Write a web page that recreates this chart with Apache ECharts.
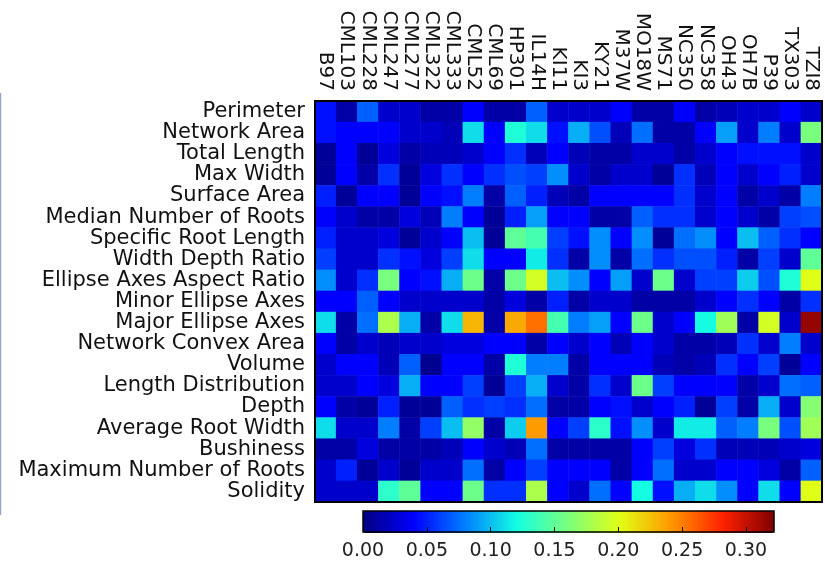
<!DOCTYPE html>
<html>
<head>
<meta charset="utf-8">
<script src="https://cdn.jsdelivr.net/npm/echarts@6/dist/echarts.min.js"></script>
<style>
  html, body {margin: 0; padding: 0; background: #fff;}
  #main {width: 825px; height: 561px;}
</style>
</head>
<body>
<div id="main"></div>
<script>
var lines = ['B97', 'CML103', 'CML228', 'CML247', 'CML277', 'CML322', 'CML333', 'CML52',
    'CML69', 'HP301', 'IL14H', 'KI11', 'KI3', 'KY21', 'M37W', 'MO18W', 'MS71', 'NC350',
    'NC358', 'OH43', 'OH7B', 'P39', 'TX303', 'TZI8'];

var traits = ['Perimeter', 'Network Area', 'Total Length', 'Max Width', 'Surface Area',
    'Median Number of Roots', 'Specific Root Length', 'Width Depth Ratio',
    'Ellipse Axes Aspect Ratio', 'Minor Ellipse Axes', 'Major Ellipse Axes',
    'Network Convex Area', 'Volume', 'Length Distribution', 'Depth',
    'Average Root Width', 'Bushiness', 'Maximum Number of Roots', 'Solidity'];

// one row per trait, one value per line (same order as above)
var values = [
    [0.045, 0.012, 0.07, 0.024, 0.024, 0.012, 0.012, 0.04, 0.012, 0.012, 0.07, 0.024, 0.024, 0.024, 0.04, 0.012, 0.012, 0.04, 0.012, 0.018, 0.024, 0.024, 0.04, 0.024],
    [0.045, 0.04, 0.04, 0.04, 0.024, 0.024, 0.018, 0.11, 0.04, 0.125, 0.11, 0.045, 0.095, 0.065, 0.018, 0.075, 0.012, 0.012, 0.04, 0.09, 0.024, 0.08, 0.024, 0.16],
    [0.008, 0.04, 0.008, 0.03, 0.012, 0.018, 0.018, 0.024, 0.04, 0.055, 0.018, 0.04, 0.018, 0.012, 0.012, 0.024, 0.024, 0.012, 0.024, 0.04, 0.045, 0.045, 0.045, 0.024],
    [0.008, 0.04, 0.012, 0.055, 0.008, 0.03, 0.055, 0.04, 0.055, 0.065, 0.06, 0.085, 0.024, 0.012, 0.024, 0.024, 0.008, 0.055, 0.018, 0.04, 0.024, 0.04, 0.05, 0.024],
    [0.05, 0.008, 0.04, 0.04, 0.008, 0.04, 0.045, 0.08, 0.012, 0.07, 0.05, 0.018, 0.012, 0.04, 0.04, 0.04, 0.04, 0.055, 0.024, 0.04, 0.012, 0.024, 0.012, 0.08],
    [0.04, 0.024, 0.012, 0.012, 0.03, 0.018, 0.08, 0.04, 0.008, 0.05, 0.09, 0.04, 0.04, 0.012, 0.012, 0.07, 0.055, 0.055, 0.024, 0.04, 0.024, 0.012, 0.06, 0.065],
    [0.05, 0.024, 0.024, 0.03, 0.008, 0.024, 0.04, 0.1, 0.008, 0.15, 0.14, 0.06, 0.045, 0.085, 0.04, 0.085, 0.008, 0.075, 0.085, 0.04, 0.1, 0.07, 0.055, 0.04],
    [0.06, 0.024, 0.024, 0.055, 0.045, 0.03, 0.06, 0.11, 0.04, 0.04, 0.115, 0.055, 0.012, 0.085, 0.012, 0.075, 0.055, 0.065, 0.065, 0.05, 0.012, 0.06, 0.024, 0.15],
    [0.085, 0.024, 0.055, 0.16, 0.04, 0.045, 0.095, 0.155, 0.012, 0.155, 0.195, 0.1, 0.085, 0.04, 0.09, 0.024, 0.155, 0.024, 0.06, 0.06, 0.105, 0.065, 0.125, 0.2],
    [0.04, 0.04, 0.07, 0.04, 0.024, 0.024, 0.024, 0.024, 0.012, 0.03, 0.012, 0.05, 0.012, 0.024, 0.024, 0.012, 0.012, 0.012, 0.024, 0.04, 0.055, 0.04, 0.012, 0.055],
    [0.11, 0.012, 0.075, 0.18, 0.095, 0.012, 0.11, 0.23, 0.012, 0.235, 0.255, 0.14, 0.08, 0.09, 0.04, 0.155, 0.024, 0.04, 0.12, 0.175, 0.012, 0.195, 0.024, 0.315],
    [0.04, 0.012, 0.024, 0.018, 0.024, 0.024, 0.03, 0.03, 0.04, 0.04, 0.012, 0.04, 0.024, 0.04, 0.018, 0.04, 0.024, 0.012, 0.012, 0.018, 0.055, 0.024, 0.08, 0.024],
    [0.024, 0.04, 0.04, 0.018, 0.07, 0.005, 0.04, 0.04, 0.012, 0.125, 0.08, 0.08, 0.012, 0.04, 0.04, 0.04, 0.018, 0.012, 0.018, 0.055, 0.04, 0.06, 0.008, 0.04],
    [0.024, 0.024, 0.04, 0.03, 0.095, 0.04, 0.04, 0.06, 0.008, 0.06, 0.095, 0.024, 0.012, 0.055, 0.024, 0.155, 0.06, 0.04, 0.04, 0.04, 0.012, 0.024, 0.075, 0.07],
    [0.04, 0.012, 0.008, 0.05, 0.008, 0.008, 0.07, 0.055, 0.06, 0.055, 0.075, 0.012, 0.012, 0.04, 0.045, 0.024, 0.04, 0.05, 0.008, 0.06, 0.012, 0.095, 0.024, 0.165],
    [0.11, 0.024, 0.024, 0.08, 0.012, 0.06, 0.1, 0.17, 0.012, 0.105, 0.24, 0.04, 0.06, 0.13, 0.045, 0.085, 0.024, 0.115, 0.115, 0.07, 0.08, 0.16, 0.065, 0.175],
    [0.012, 0.012, 0.03, 0.012, 0.012, 0.012, 0.018, 0.04, 0.024, 0.018, 0.075, 0.012, 0.012, 0.012, 0.012, 0.04, 0.06, 0.03, 0.055, 0.018, 0.018, 0.018, 0.024, 0.03],
    [0.024, 0.05, 0.008, 0.024, 0.008, 0.024, 0.024, 0.075, 0.012, 0.04, 0.06, 0.04, 0.04, 0.04, 0.012, 0.04, 0.075, 0.024, 0.024, 0.04, 0.04, 0.03, 0.012, 0.07],
    [0.024, 0.024, 0.024, 0.13, 0.15, 0.04, 0.04, 0.155, 0.055, 0.055, 0.18, 0.04, 0.024, 0.075, 0.04, 0.12, 0.045, 0.095, 0.11, 0.085, 0.04, 0.11, 0.04, 0.2]
];

var scaleMin = 0, scaleMax = 0.322;
var jet = ['#000080', '#0000ff', '#0080ff', '#14ffe2', '#7bff7b', '#e2ff14', '#ff9700', '#ff2100', '#800000'];

var data = [];
values.forEach(function (row, y) {
    row.forEach(function (v, x) {
        data.push([x, y, v]);
    });
});

var font = 'DejaVu Sans';
var chart = echarts.init(document.getElementById('main'));
chart.setOption({
    animation: false,
    textStyle: {fontFamily: font},
    graphic: [{
        type: 'line', shape: {x1: 0.5, y1: 93, x2: 0.5, y2: 515},
        style: {stroke: '#9aa6c4', lineWidth: 1.5}
    }],
    grid: [
        {left: 315, top: 101, width: 507, height: 401, show: true, z: 5,
            backgroundColor: 'rgba(0,0,0,0)', borderColor: '#000', borderWidth: 2},
        {left: 363, top: 511, width: 411, height: 22, show: true, z: 10,
            backgroundColor: 'rgba(0,0,0,0)', borderColor: '#000', borderWidth: 1.5}
    ],
    xAxis: [
        {type: 'category', data: lines, position: 'top', gridIndex: 0,
            axisLine: {show: false}, axisTick: {show: false}, splitLine: {show: false},
            axisLabel: {rotate: 90, interval: 0, fontSize: 20, color: '#111', margin: 10, fontFamily: font}},
        {type: 'value', gridIndex: 1, min: scaleMin, max: scaleMax, interval: 0.05, z: 10,
            axisLine: {show: false}, splitLine: {show: false},
            axisTick: {show: true, inside: true, length: 5, lineStyle: {color: '#000', width: 1}},
            axisLabel: {fontSize: 19, color: '#222', margin: 10, fontFamily: font,
                showMaxLabel: false,
                formatter: function (v) { return v.toFixed(2); }}}
    ],
    yAxis: [
        {type: 'category', data: traits, inverse: true, gridIndex: 0,
            axisLine: {show: false}, axisTick: {show: false}, splitLine: {show: false},
            axisLabel: {interval: 0, fontSize: 21, color: '#111', margin: 10, fontFamily: font}},
        {type: 'value', gridIndex: 1, show: false}
    ],
    visualMap: {
        type: 'continuous', min: scaleMin, max: scaleMax, seriesIndex: 0,
        orient: 'horizontal', left: 363, top: 511, padding: 0,
        itemWidth: 22, itemHeight: 411, calculable: false, z: 4,
        inRange: {color: jet}
    },
    series: [{
        type: 'heatmap', xAxisIndex: 0, yAxisIndex: 0,
        data: data,
        itemStyle: {borderWidth: 0},
        emphasis: {disabled: true}
    }]
});
</script>
</body>
</html>
